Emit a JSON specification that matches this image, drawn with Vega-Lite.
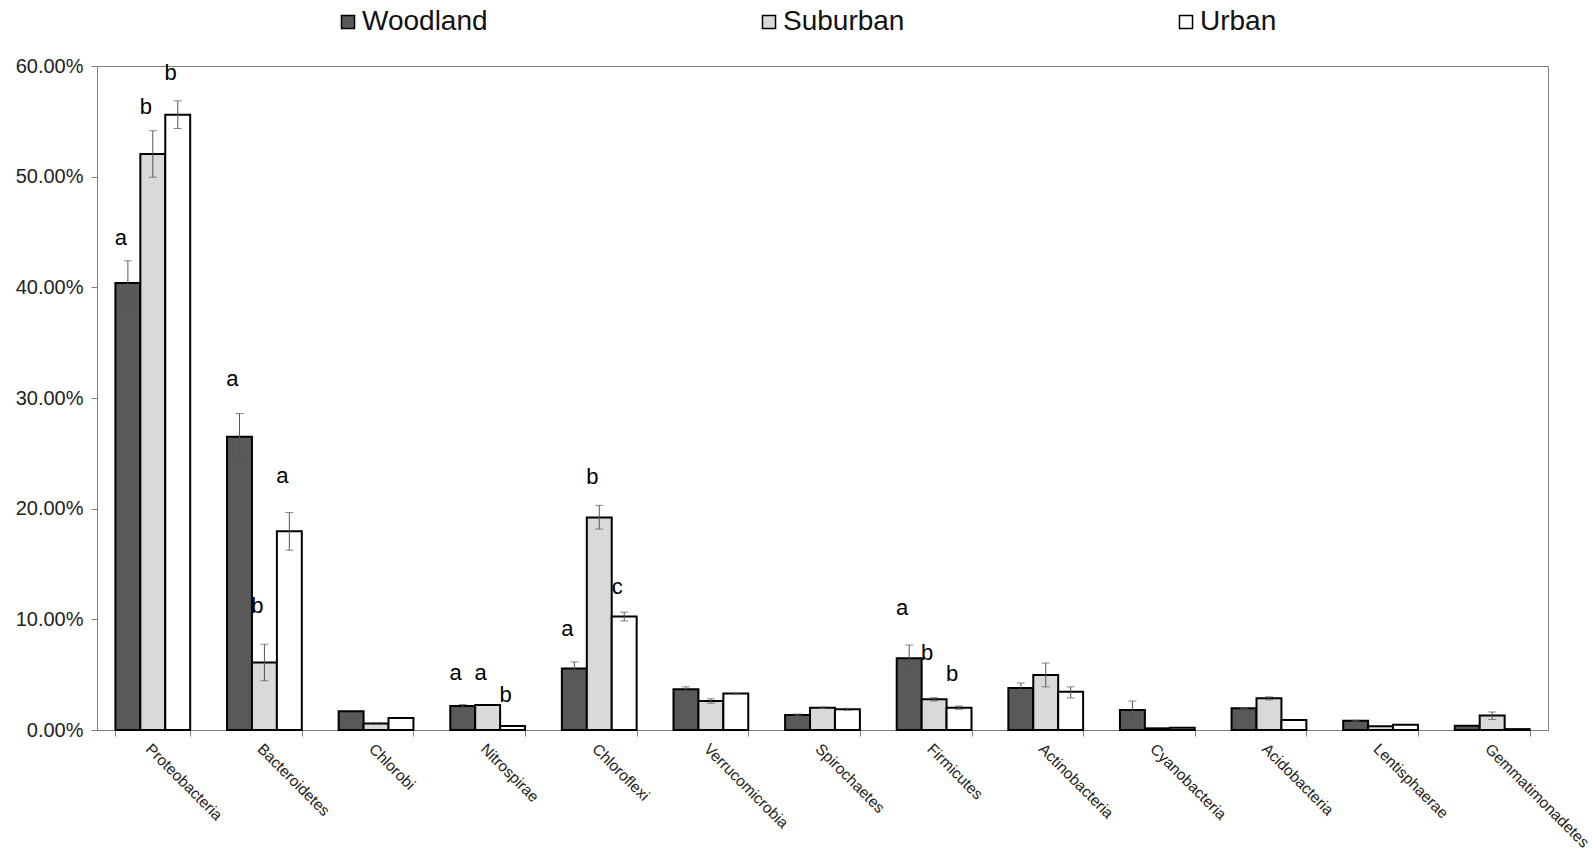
{
  "$schema": "https://vega.github.io/schema/vega-lite/v6.json",
  "width": 1451,
  "height": 664,
  "autosize": {"type": "none"},
  "padding": {"left": 97, "top": 66, "right": 45, "bottom": 130},
  "background": "white",
  "config": {"view": {"stroke": "#808080", "strokeWidth": 1}, "font": "Liberation Sans"},
  "datasets": {
    "bars": [
      {"phylum": "Proteobacteria", "group": "Woodland", "value": 40.4, "lo": 38.4, "hi": 42.4},
      {"phylum": "Proteobacteria", "group": "Suburban", "value": 52.05, "lo": 49.95, "hi": 54.15},
      {"phylum": "Proteobacteria", "group": "Urban", "value": 55.6, "lo": 54.35, "hi": 56.85},
      {"phylum": "Bacteroidetes", "group": "Woodland", "value": 26.5, "lo": 24.45, "hi": 28.6},
      {"phylum": "Bacteroidetes", "group": "Suburban", "value": 6.1, "lo": 4.45, "hi": 7.75},
      {"phylum": "Bacteroidetes", "group": "Urban", "value": 17.95, "lo": 16.25, "hi": 19.65},
      {"phylum": "Chlorobi", "group": "Woodland", "value": 1.69},
      {"phylum": "Chlorobi", "group": "Suburban", "value": 0.58, "lo": 0.5, "hi": 0.66},
      {"phylum": "Chlorobi", "group": "Urban", "value": 1.08},
      {"phylum": "Nitrospirae", "group": "Woodland", "value": 2.17, "lo": 2.02, "hi": 2.3},
      {"phylum": "Nitrospirae", "group": "Suburban", "value": 2.26},
      {"phylum": "Nitrospirae", "group": "Urban", "value": 0.36},
      {"phylum": "Chloroflexi", "group": "Woodland", "value": 5.55, "lo": 4.95, "hi": 6.15},
      {"phylum": "Chloroflexi", "group": "Suburban", "value": 19.2, "lo": 18.15, "hi": 20.3},
      {"phylum": "Chloroflexi", "group": "Urban", "value": 10.25, "lo": 9.85, "hi": 10.65},
      {"phylum": "Verrucomicrobia", "group": "Woodland", "value": 3.68, "lo": 3.45, "hi": 3.9},
      {"phylum": "Verrucomicrobia", "group": "Suburban", "value": 2.62, "lo": 2.42, "hi": 2.82},
      {"phylum": "Verrucomicrobia", "group": "Urban", "value": 3.29, "lo": 3.24, "hi": 3.34},
      {"phylum": "Spirochaetes", "group": "Woodland", "value": 1.36, "lo": 1.28, "hi": 1.44},
      {"phylum": "Spirochaetes", "group": "Suburban", "value": 2.02, "lo": 1.96, "hi": 2.08},
      {"phylum": "Spirochaetes", "group": "Urban", "value": 1.87, "lo": 1.78, "hi": 1.96},
      {"phylum": "Firmicutes", "group": "Woodland", "value": 6.48, "lo": 5.28, "hi": 7.68},
      {"phylum": "Firmicutes", "group": "Suburban", "value": 2.77, "lo": 2.62, "hi": 2.92},
      {"phylum": "Firmicutes", "group": "Urban", "value": 2.02, "lo": 1.87, "hi": 2.17},
      {"phylum": "Actinobacteria", "group": "Woodland", "value": 3.8, "lo": 3.34, "hi": 4.25},
      {"phylum": "Actinobacteria", "group": "Suburban", "value": 4.97, "lo": 3.9, "hi": 6.05},
      {"phylum": "Actinobacteria", "group": "Urban", "value": 3.46, "lo": 2.9, "hi": 3.9},
      {"phylum": "Cyanobacteria", "group": "Woodland", "value": 1.81, "lo": 1.02, "hi": 2.62},
      {"phylum": "Cyanobacteria", "group": "Suburban", "value": 0.15},
      {"phylum": "Cyanobacteria", "group": "Urban", "value": 0.21},
      {"phylum": "Acidobacteria", "group": "Woodland", "value": 1.96, "lo": 1.92, "hi": 2.0},
      {"phylum": "Acidobacteria", "group": "Suburban", "value": 2.86, "lo": 2.72, "hi": 3.0},
      {"phylum": "Acidobacteria", "group": "Urban", "value": 0.9},
      {"phylum": "Lentisphaerae", "group": "Woodland", "value": 0.84, "lo": 0.8, "hi": 0.88},
      {"phylum": "Lentisphaerae", "group": "Suburban", "value": 0.33},
      {"phylum": "Lentisphaerae", "group": "Urban", "value": 0.48},
      {"phylum": "Gemmatimonadetes", "group": "Woodland", "value": 0.39},
      {"phylum": "Gemmatimonadetes", "group": "Suburban", "value": 1.32, "lo": 0.95, "hi": 1.63},
      {"phylum": "Gemmatimonadetes", "group": "Urban", "value": 0.08}
    ],
    "letters": [
      {"phylum": "Proteobacteria", "group": "Woodland", "letter": "a", "pos": 44.5},
      {"phylum": "Proteobacteria", "group": "Suburban", "letter": "b", "pos": 56.3},
      {"phylum": "Proteobacteria", "group": "Urban", "letter": "b", "pos": 59.4},
      {"phylum": "Bacteroidetes", "group": "Woodland", "letter": "a", "pos": 31.7},
      {"phylum": "Bacteroidetes", "group": "Suburban", "letter": "b", "pos": 11.2},
      {"phylum": "Bacteroidetes", "group": "Urban", "letter": "a", "pos": 22.95},
      {"phylum": "Nitrospirae", "group": "Woodland", "letter": "a", "pos": 5.12},
      {"phylum": "Nitrospirae", "group": "Suburban", "letter": "a", "pos": 5.12},
      {"phylum": "Nitrospirae", "group": "Urban", "letter": "b", "pos": 3.16},
      {"phylum": "Chloroflexi", "group": "Woodland", "letter": "a", "pos": 9.1},
      {"phylum": "Chloroflexi", "group": "Suburban", "letter": "b", "pos": 22.9},
      {"phylum": "Chloroflexi", "group": "Urban", "letter": "c", "pos": 12.95},
      {"phylum": "Firmicutes", "group": "Woodland", "letter": "a", "pos": 11.05},
      {"phylum": "Firmicutes", "group": "Suburban", "letter": "b", "pos": 6.98},
      {"phylum": "Firmicutes", "group": "Urban", "letter": "b", "pos": 5.03}
    ]
  },
  "encoding": {
    "x": {
      "field": "phylum",
      "type": "nominal",
      "scale": {
        "domain": ["Proteobacteria", "Bacteroidetes", "Chlorobi", "Nitrospirae", "Chloroflexi", "Verrucomicrobia", "Spirochaetes", "Firmicutes", "Actinobacteria", "Cyanobacteria", "Acidobacteria", "Lentisphaerae", "Gemmatimonadetes"],
        "paddingInner": 0.33,
        "paddingOuter": 0.165
      },
      "axis": {
        "title": null,
        "labelAngle": 45,
        "labelAlign": "left",
        "labelBaseline": "top",
        "labelFontSize": 15.5,
        "labelColor": "#222222",
        "labelPadding": 5,
        "labelLimit": 300,
        "tickBand": "extent",
        "tickSize": 6,
        "tickColor": "#808080",
        "domainColor": "#808080"
      }
    },
    "xOffset": {
      "field": "group",
      "type": "nominal",
      "scale": {"domain": ["Woodland", "Suburban", "Urban"], "paddingInner": 0, "paddingOuter": 0}
    }
  },
  "layer": [
    {
      "data": {"name": "bars"},
      "mark": {"type": "bar", "stroke": "#000000", "strokeWidth": 2},
      "encoding": {
        "y": {
          "field": "value",
          "type": "quantitative",
          "scale": {"domain": [0, 60], "nice": false},
          "axis": {
            "title": null,
            "values": [0, 10, 20, 30, 40, 50, 60],
            "labelExpr": "format(datum.value, '.2f') + '%'",
            "grid": false,
            "labelFontSize": 20,
            "labelColor": "#222222",
            "labelPadding": 8,
            "tickSize": 6,
            "tickColor": "#808080",
            "domainColor": "#808080"
          }
        },
        "fill": {
          "field": "group",
          "type": "nominal",
          "scale": {"domain": ["Woodland", "Suburban", "Urban"], "range": ["#595959", "#d9d9d9", "#ffffff"]},
          "legend": {
            "orient": "none",
            "legendX": 237,
            "legendY": -58,
            "direction": "horizontal",
            "title": null,
            "symbolType": "square",
            "symbolSize": 170,
            "symbolStrokeColor": "#000000",
            "symbolStrokeWidth": 1.5,
            "labelFontSize": 28,
            "labelColor": "#111111",
            "labelOffset": 0,
            "columnPadding": 267
          }
        }
      }
    },
    {
      "data": {"name": "bars"},
      "transform": [{"filter": "isValid(datum.lo)"}],
      "mark": {"type": "rule", "color": "#555555", "strokeWidth": 1},
      "encoding": {"y": {"field": "lo", "type": "quantitative"}, "y2": {"field": "hi"}}
    },
    {
      "data": {"name": "bars"},
      "transform": [{"filter": "isValid(datum.lo)"}],
      "mark": {"type": "tick", "color": "#555555", "size": 8, "thickness": 1},
      "encoding": {"y": {"field": "lo", "type": "quantitative"}}
    },
    {
      "data": {"name": "bars"},
      "transform": [{"filter": "isValid(datum.lo)"}],
      "mark": {"type": "tick", "color": "#555555", "size": 8, "thickness": 1},
      "encoding": {"y": {"field": "hi", "type": "quantitative"}}
    },
    {
      "data": {"name": "letters"},
      "mark": {"type": "text", "fontSize": 22, "dx": -7, "baseline": "middle", "align": "center", "color": "#000000"},
      "encoding": {"y": {"field": "pos", "type": "quantitative"}, "text": {"field": "letter"}}
    }
  ]
}
